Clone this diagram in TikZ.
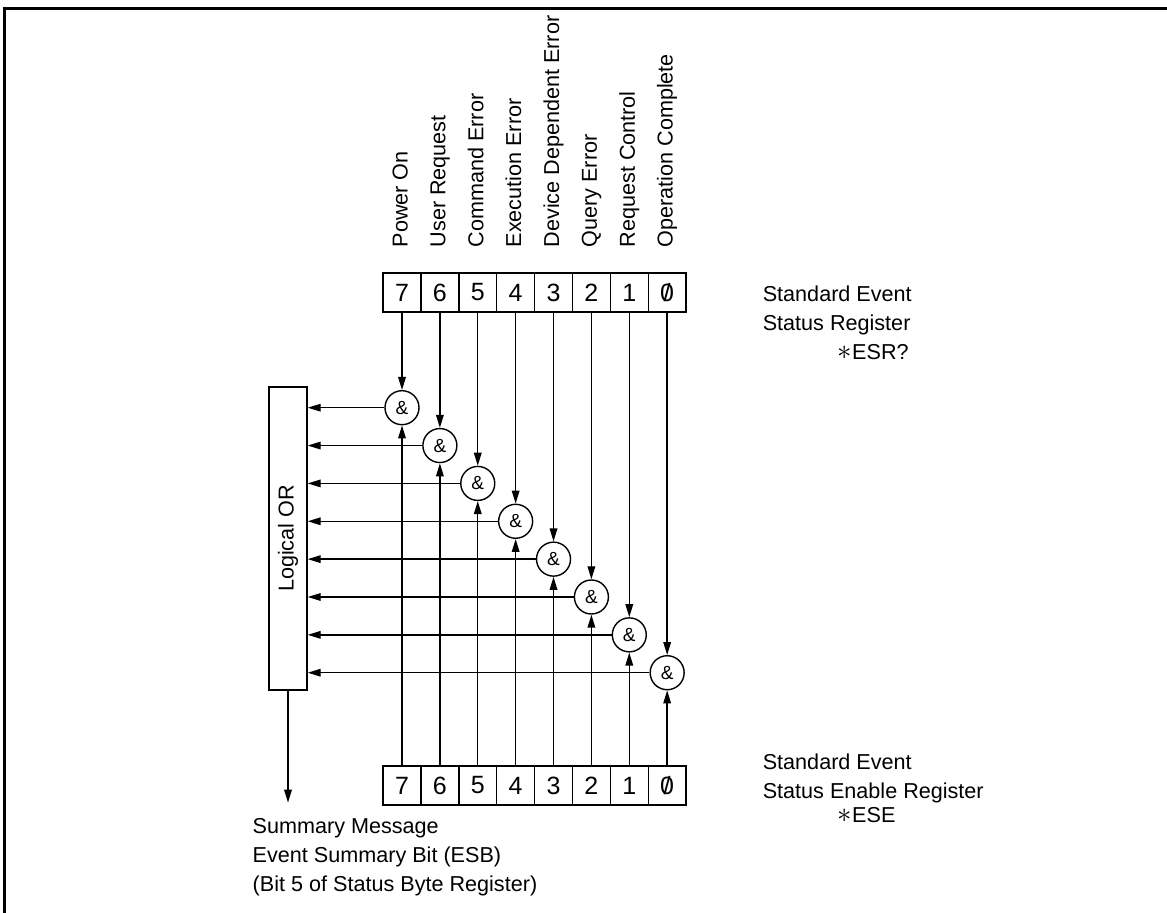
\documentclass[tikz,border=0pt]{standalone}
\usepackage{fontspec}
\setmainfont{Liberation Sans}
\usepackage{graphicx}
\usetikzlibrary{positioning,arrows.meta}
\newcommand{\slzero}{\ooalign{0\cr\hidewidth/\hidewidth}}
\newcommand{\bigast}{\smash{\fontsize{15}{15}\selectfont$\ast$}}

\begin{document}
\begin{tikzpicture}[x=0.5pt, y=-0.5pt, line width=0.7pt,
  every node/.style={font=\fontsize{10.8}{15}\selectfont},
  cell/.style={draw, rectangle, minimum width=18.94pt, minimum height=19.5pt, inner sep=0pt, outer sep=0pt, font=\fontsize{12.5}{15}\selectfont},
  gate/.style={draw, circle, minimum size=17pt, inner sep=0pt, font=\fontsize{9.5}{11}\selectfont},
  bitlabel/.style={rotate=90, anchor=west, inner sep=0pt, text height=8pt, text depth=2.5pt},
  textblock/.style={anchor=north west, align=left, inner sep=0pt},
  arr/.style={-{Triangle[length=6.5pt,width=3.8pt]}}]
\useasboundingbox (0,0) rectangle (1167,913);
\draw [line width=1.5pt] (1167,9) -- (4.5,9) -- (4.5,913);

% status register
\node (c7) [cell] at (402,292.5) {7};
\node (c6) [cell, right=0pt of c7] {6};
\node (c5) [cell, right=0pt of c6] {5};
\node (c4) [cell, right=0pt of c5] {4};
\node (c3) [cell, right=0pt of c4] {3};
\node (c2) [cell, right=0pt of c3] {2};
\node (c1) [cell, right=0pt of c2] {1};
\node (c0) [cell, right=0pt of c1] {\slzero};

\node (lpo) [bitlabel] at ([yshift=12.5pt]c7.north) {Power On};
\node (lur) [bitlabel] at ([yshift=12.5pt]c6.north) {User Request};
\node (lce) [bitlabel] at ([yshift=12.5pt]c5.north) {Command Error};
\node (lee) [bitlabel] at ([yshift=12.5pt]c4.north) {Execution Error};
\node (ldd) [bitlabel] at ([yshift=12.5pt]c3.north) {Device Dependent Error};
\node (lqe) [bitlabel] at ([yshift=12.5pt]c2.north) {Query Error};
\node (lrc) [bitlabel] at ([yshift=12.5pt]c1.north) {Request Control};
\node (loc) [bitlabel] at ([yshift=12.5pt]c0.north) {Operation Complete};

\node (esrtext) [textblock] at ([xshift=38pt,yshift=-6pt]c0.north east) {Standard Event\\[-0.5pt]Status Register\\[-0.5pt]\hspace{37.5pt}\bigast ESR?};

% and gates
\node (g7) [gate, below=39pt of c7] {\&};
\node (g6) [gate, below=57.93pt of c6] {\&};
\node (g5) [gate, below=76.86pt of c5] {\&};
\node (g4) [gate, below=95.79pt of c4] {\&};
\node (g3) [gate, below=114.72pt of c3] {\&};
\node (g2) [gate, below=133.65pt of c2] {\&};
\node (g1) [gate, below=152.58pt of c1] {\&};
\node (g0) [gate, below=171.51pt of c0] {\&};

% enable register
\node (b7) [cell, below=227pt of c7] {7};
\node (b6) [cell, right=0pt of b7] {6};
\node (b5) [cell, right=0pt of b6] {5};
\node (b4) [cell, right=0pt of b5] {4};
\node (b3) [cell, right=0pt of b4] {3};
\node (b2) [cell, right=0pt of b3] {2};
\node (b1) [cell, right=0pt of b2] {1};
\node (b0) [cell, right=0pt of b1] {\slzero};

\node (esetext) [textblock] at ([xshift=38pt,yshift=6.25pt]b0.north east) {Standard Event\\[-0.5pt]Status Enable Register\\[-3pt]\hspace{37.5pt}\bigast ESE};

% logical or
\node (lor) [draw, minimum width=19pt, minimum height=151.5pt, inner sep=0pt] at (288,538.5) {\rotatebox{90}{Logical OR}};
\coordinate (esb) at ([yshift=-56pt]lor.south);
\node (esbtext) [textblock] at ([xshift=-18pt,yshift=-7.75pt]esb) {Summary Message\\[-0.5pt]Event Summary Bit (ESB)\\[-0.5pt](Bit 5 of Status Byte Register)};

\draw [arr] (c7) -- (g7);
\draw [arr] (c6) -- (g6);
\draw [arr] (c5) -- (g5);
\draw [arr] (c4) -- (g4);
\draw [arr] (c3) -- (g3);
\draw [arr] (c2) -- (g2);
\draw [arr] (c1) -- (g1);
\draw [arr] (c0) -- (g0);
\draw [arr] (b7) -- (g7);
\draw [arr] (b6) -- (g6);
\draw [arr] (b5) -- (g5);
\draw [arr] (b4) -- (g4);
\draw [arr] (b3) -- (g3);
\draw [arr] (b2) -- (g2);
\draw [arr] (b1) -- (g1);
\draw [arr] (b0) -- (g0);
\draw [arr] (g7) -- (g7 -| lor.east);
\draw [arr] (g6) -- (g6 -| lor.east);
\draw [arr] (g5) -- (g5 -| lor.east);
\draw [arr] (g4) -- (g4 -| lor.east);
\draw [arr] (g3) -- (g3 -| lor.east);
\draw [arr] (g2) -- (g2 -| lor.east);
\draw [arr] (g1) -- (g1 -| lor.east);
\draw [arr] (g0) -- (g0 -| lor.east);
\draw [arr] (lor) -- (esb);
\end{tikzpicture}
\end{document}
